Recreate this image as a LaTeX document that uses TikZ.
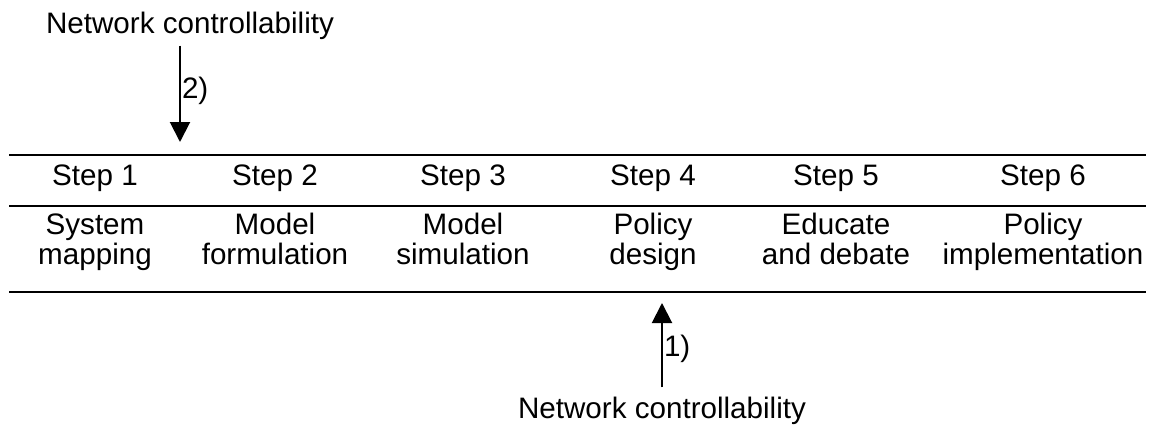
\documentclass[tikz,border=0pt]{standalone}
\usepackage{fontspec}
\setmainfont{Liberation Sans}
\usetikzlibrary{arrows.meta}
\begin{document}
\begin{tikzpicture}[x=0.75pt,y=0.75pt,yscale=-1,xscale=1,
  rule/.style={line width=2.1pt},
  flow/.style={line width=1.5pt,-{Triangle[width=15pt,length=15pt]}},
  txt/.style={inner sep=0.75pt,font=\fontsize{22.2}{22.5}\selectfont,align=center}]
\useasboundingbox (0,0) rectangle (1150,425);

%Straight Lines
\draw [rule] (9,155) -- (1146,155) ;
%Straight Lines
\draw [rule] (9,206) -- (1146,206) ;
%Straight Lines
\draw [rule] (9,292) -- (1146,292) ;

% Text Node
\node [txt,anchor=base] (step1) at (95,185) {Step 1};
\node [txt,anchor=base] (step2) at (275,185) {Step 2};
\node [txt,anchor=base] (step3) at (463,185) {Step 3};
\node [txt,anchor=base] (step4) at (653,185) {Step 4};
\node [txt,anchor=base] (step5) at (836,185) {Step 5};
\node [txt,anchor=base] (step6) at (1043,185) {Step 6};

% Text Node
\node [txt,anchor=base] (desc1) at (95,264) {System\\mapping};
\node [txt,anchor=base] (desc2) at (275,264) {Model\\formulation};
\node [txt,anchor=base] (desc3) at (463,264) {Model\\simulation};
\node [txt,anchor=base] (desc4) at (653,264) {Policy\\design};
\node [txt,anchor=base] (desc5) at (836,264) {Educate\\and debate};
\node [txt,anchor=base] (desc6) at (1043,264) {Policy\\implementation};

% Text Node
\node [txt,anchor=base] (nctop) at (190,33) {Network controllability};
\node [txt,anchor=base] (ncbot) at (662,418) {Network controllability};

\coordinate (tip2) at (180,142);
\coordinate (tip1) at (662,303);

%Straight Lines
\draw [flow,shorten <=4pt] (nctop.south -| tip2) -- (tip2) node [txt,midway,anchor=west] {2)};
%Straight Lines
\draw [flow,shorten <=6pt] (ncbot.north -| tip1) -- (tip1) node [txt,midway,anchor=west] {1)};

\end{tikzpicture}
\end{document}
